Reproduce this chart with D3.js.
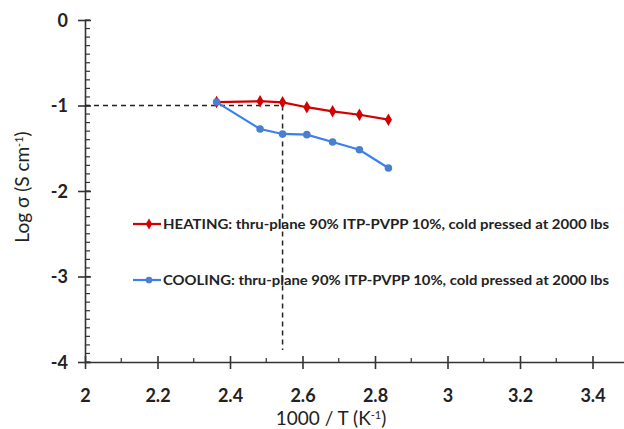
<!DOCTYPE html>
<html>
<head>
<meta charset="utf-8">
<script src="https://cdn.jsdelivr.net/npm/d3@7"></script>
<style>
  body { margin: 0; background: #fff; }
  text { font-family: Lato, "Open Sans", sans-serif; }
</style>
</head>
<body>
<div id="chart"></div>
<script>
// values
const xTicks = [2, 2.2, 2.4, 2.6, 2.8, 3, 3.2, 3.4];
const yTicks = [0, -1, -2, -3, -4];

const heatX = [2.363, 2.483, 2.545, 2.612, 2.683, 2.757, 2.837];
const heatY = [-0.96, -0.95, -0.963, -1.02, -1.068, -1.108, -1.166];
const coolX = [2.363, 2.483, 2.545, 2.612, 2.683, 2.757, 2.837];
const coolY = [-0.96, -1.275, -1.333, -1.341, -1.427, -1.517, -1.731];

const seriesNames = [
  "HEATING: thru-plane 90% ITP-PVPP 10%, cold pressed at 2000 lbs",
  "COOLING: thru-plane 90% ITP-PVPP 10%, cold pressed at 2000 lbs"
];
const refX = 2.545, refY = -1;

let width = 624;
let height = 429;

let x = d3.scaleLinear().domain([2, 3.6]).range([85, 665]);
let y = d3.scaleLinear().domain([-4, 0]).range([362, 20]);

let svg = d3.select("#chart").append("svg")
  .attr("width", width)
  .attr("height", height);

const axisCol = "#333";
const fmt = d => String(d);   // plain hyphen, as in the picture

// minor ticks
svg.append("g")
  .selectAll("line")
  .data(d3.range(-40, 1).map(d => d / 10))
  .enter().append("line")
    .attr("x1", x(2)).attr("x2", x(2) + 5)
    .attr("y1", d => y(d)).attr("y2", d => y(d))
    .attr("stroke", axisCol).attr("stroke-width", 1.2);

svg.append("g")
  .selectAll("line")
  .data(d3.range(21, 36, 2).map(d => d / 10))
  .enter().append("line")
    .attr("x1", d => x(d)).attr("x2", d => x(d))
    .attr("y1", y(-4)).attr("y2", y(-4) - 4)
    .attr("stroke", axisCol).attr("stroke-width", 1.2);

// axes
let axeX = d3.axisBottom(x).tickValues(xTicks).tickSize(0).tickPadding(0).tickFormat(fmt);
let gx = svg.append("g")
  .attr("transform", `translate(0,${y(-4)})`)
  .call(axeX);
gx.select(".domain").attr("stroke", axisCol).attr("stroke-width", 1.6);
gx.selectAll(".tick text")
  .attr("y", 40).attr("dy", 0)
  .attr("font-size", 18).attr("font-weight", "bold").attr("fill", "#222");
gx.selectAll(".tick").append("line")
  .attr("y1", -6).attr("y2", 7)
  .attr("stroke", axisCol).attr("stroke-width", 1.6);

let axeY = d3.axisLeft(y).tickValues(yTicks).tickSize(0).tickPadding(0).tickFormat(fmt);
let gy = svg.append("g")
  .attr("transform", `translate(${x(2)},0)`)
  .call(axeY);
gy.select(".domain").attr("stroke", axisCol).attr("stroke-width", 1.6);
gy.selectAll(".tick text")
  .attr("x", -17).attr("dy", "0.36em")
  .attr("font-size", 18).attr("font-weight", "bold").attr("fill", "#222");
gy.selectAll(".tick").append("line")
  .attr("x1", -7).attr("x2", 6)
  .attr("stroke", axisCol).attr("stroke-width", 1.6);

// axis titles
svg.append("text")
  .attr("x", 331).attr("y", 425)
  .attr("text-anchor", "middle")
  .attr("font-size", 19).attr("fill", "#222")
  .html('1000 / T  (K<tspan dy="-6" font-size="11">-1</tspan><tspan dy="6">)</tspan>');

svg.append("text")
  .attr("transform", "translate(29,187) rotate(-90)")
  .attr("text-anchor", "middle")
  .attr("font-size", 19).attr("fill", "#222")
  .html('Log σ (S cm<tspan dy="-6" font-size="11">-1</tspan><tspan dy="6">)</tspan>');

// reference dashed lines
svg.append("path")
  .attr("d", `M${x(2)},${y(refY)}H${x(refX)}M${x(refX)},${y(refY)}V350`)
  .attr("fill", "none").attr("stroke", "#222")
  .attr("stroke-width", 1.5).attr("stroke-dasharray", "5,4");

// series
const series = [
  { name: seriesNames[0], xs: heatX, ys: heatY, color: "#d40000", marker: d3.symbolDiamond },
  { name: seriesNames[1], xs: coolX, ys: coolY, color: "#3b7ff0", marker: d3.symbolCircle, mcolor: "#4a7fd0" }
];

let line = d3.line().x(d => x(d[0])).y(d => y(d[1]));

series.forEach(s => {
  let pts = s.xs.map((v, i) => [v, s.ys[i]]);
  svg.append("path")
    .datum(pts)
    .attr("d", line)
    .attr("fill", "none")
    .attr("stroke", s.color)
    .attr("stroke-width", 2.2);
  svg.append("g").selectAll("path")
    .data(pts)
    .enter().append("path")
      .attr("d", d3.symbol().type(s.marker).size(45))
      .attr("transform", d => `translate(${x(d[0])},${y(d[1])})`)
      .attr("fill", s.mcolor || s.color);
});

// legend
let leg = svg.append("g").selectAll("g")
  .data(series)
  .enter().append("g")
    .attr("transform", (d, i) => `translate(133,${224 + i * 56})`);
leg.append("line")
  .attr("x1", 0).attr("x2", 28)
  .attr("stroke", d => d.color).attr("stroke-width", 2.2);
leg.append("path")
  .attr("d", d => d3.symbol().type(d.marker).size(35)())
  .attr("transform", "translate(16,0)")
  .attr("fill", d => d.mcolor || d.color);
leg.append("text")
  .attr("x", 30).attr("dy", "0.35em")
  .attr("font-size", 13).attr("font-weight", "bold").attr("fill", "#222")
  .attr("textLength", 446).attr("lengthAdjust", "spacingAndGlyphs")
  .text(d => d.name);
</script>
</body>
</html>
